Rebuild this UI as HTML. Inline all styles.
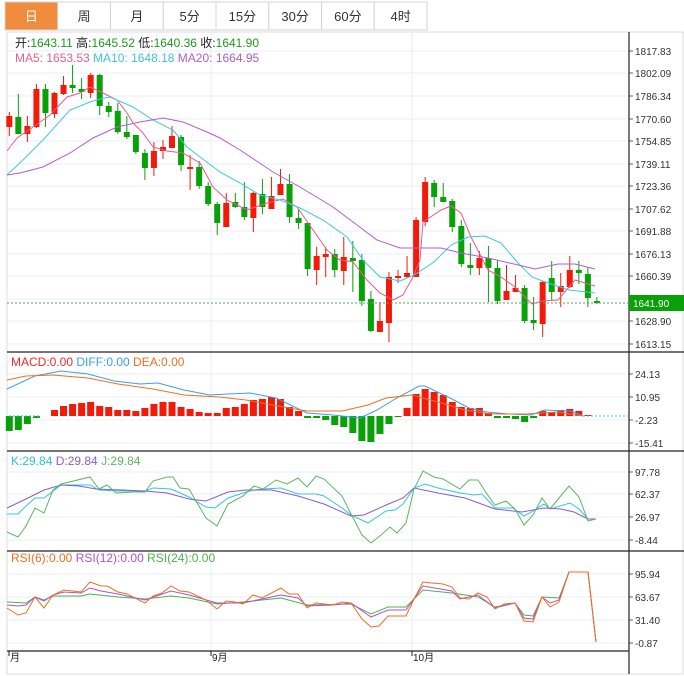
<!DOCTYPE html>
<html><head><meta charset="utf-8"><style>
body{margin:0;background:#fff;width:684px;height:676px;overflow:hidden;font-family:"Liberation Sans","Noto Sans CJK SC",sans-serif}
svg{position:absolute;left:0;top:0}
</style></head><body>
<svg id="s" width="684" height="676" xmlns="http://www.w3.org/2000/svg" font-family="Liberation Sans, Noto Sans CJK SC, sans-serif"></svg>
<script>
const S=document.getElementById('s');let h='';
function L(x1,y1,x2,y2,c,w,d){h+=`<line x1="${x1}" y1="${y1}" x2="${x2}" y2="${y2}" stroke="${c}" stroke-width="${w||1}" ${d?'stroke-dasharray="'+d+'"':''}/>`}
function R(x,y,w,hh,f,st){h+=`<rect x="${x}" y="${y}" width="${w}" height="${hh}" fill="${f}" ${st?'stroke="'+st+'"':''}/>`}
function T(x,y,t,c,s,a){h+=`<text x="${x}" y="${y}" fill="${c}" font-size="${s||12}" ${a?'text-anchor="'+a+'"':''}>${t}</text>`}
function P(pts,c,w){h+=`<polyline fill="none" stroke="${c}" stroke-width="${w||1}" points="${pts}"/>`}
// tabs
const tabs=['日','周','月','5分','15分','30分','60分','4时'];
tabs.forEach((t,i)=>{const x=5+i*52.75;R(x,2,52.75,28,i==0?'#f08c3e':'#fff','#d4d4d4');T(x+26.4,21,t,i==0?'#fff':'#333',13,'middle');});
// frame
R(7,32,676,642,'none','#ddd');
// grids
const gy=[[51,'1817.83'],[73,'1802.09'],[96,'1786.34'],[119,'1770.60'],[141,'1754.85'],[164,'1739.11'],[186,'1723.36'],[209,'1707.62'],[231,'1691.88'],[254,'1676.13'],[276,'1660.39'],[299,''],[321,'1628.90'],[344,'1613.15'],
[374,'24.13'],[397,'10.95'],[420,'-2.23'],[443,'-15.41'],[472,'97.78'],[494,'62.37'],[517,'26.97'],[540,'-8.44'],[574,'95.94'],[597,'63.67'],[620,'31.40'],[643,'-0.87']];
gy.forEach(g=>{L(7,g[0],629,g[0],'#e8eef3',1);L(629,g[0],633,g[0],'#666',1);if(g[1])T(635,g[0]+4,g[1],'#333',10);});
[211,412].forEach(x=>L(x,32,x,651,'#e8eef3',1));
// panel separators
[352,451,551].forEach(y=>L(7,y,684,y,'#222',1.2));
L(7,651,629,651,'#222',1.2);
L(629,32,629,674,'#222',1.2);
[[9,'月'],[211,'9月'],[412,'10月']].forEach(m=>{L(m[0],651,m[0],656,'#222');T(m[0]+1,661,m[1],'#222',10);});
// legends
h+=`<text x="15" y="47" font-size="12"><tspan fill="#222">开:</tspan><tspan fill="#1c9a1c">1643.11 </tspan><tspan fill="#222"> 高:</tspan><tspan fill="#1c9a1c">1645.52 </tspan><tspan fill="#222"> 低:</tspan><tspan fill="#1c9a1c">1640.36 </tspan><tspan fill="#222"> 收:</tspan><tspan fill="#1c9a1c">1641.90</tspan></text>`;
h+=`<text x="15" y="62" font-size="12"><tspan fill="#e8608a">MA5: 1653.53 </tspan><tspan fill="#3ec3dc"> MA10: 1648.18 </tspan><tspan fill="#b15ccb"> MA20: 1664.95</tspan></text>`;
h+=`<text x="11" y="366" font-size="12"><tspan fill="#f02a2a">MACD:0.00 </tspan><tspan fill="#3aa0f0"> DIFF:0.00 </tspan><tspan fill="#f07020"> DEA:0.00</tspan></text>`;
h+=`<text x="11" y="465" font-size="12"><tspan fill="#30c0d8">K:29.84 </tspan><tspan fill="#8a5cd0"> D:29.84 </tspan><tspan fill="#5cb85c"> J:29.84</tspan></text>`;
h+=`<text x="11" y="562" font-size="12"><tspan fill="#f07020">RSI(6):0.00 </tspan><tspan fill="#b050d0"> RSI(12):0.00 </tspan><tspan fill="#50b050"> RSI(24):0.00</tspan></text>`;
// candles [color, bodyTop, bodyBot, hi, lo]
const C=[['r',116,127,112,136],['g',117,134,94,134],['r',126,134,116,142],['r',89,127,84,128],['g',89,113,84,127],['r',93,114,92,118],['r',85,94,76,95],['g',85,88,65,93],['g',89,92,78,99],['r',75,93,73,98],
['g',75,106,74,115],['g',106,112,102,117],['g',111,132,103,134],['g',132,137,116,139],['g',135,152,135,154],['g',153,168,149,180],['r',151,168,142,176],['r',147,151,140,159],['r',136,148,126,148],['g',137,165,135,171],
['r',167,169,155,190],['g',167,186,161,189],['g',186,204,182,206],['g',204,223,202,235],['r',203,227,193,227],['g',202,207,193,208],['g',207,217,182,220],['r',193,218,192,232],['g',194,207,179,214],['r',196,209,177,209],
['r',184,195,169,195],['g',184,217,174,223],['g',218,223,209,229],['g',223,269,222,276],['r',256,270,247,285],['r',254,257,247,277],['g',254,270,249,277],['r',257,271,237,285],['g',258,261,241,292],['g',260,301,254,306],
['g',299,331,291,332],['r',321,332,302,332],['r',277,323,272,342],['r',276,278,270,283],['r',273,277,256,278],['r',220,277,217,277],['r',182,222,177,226],['g',183,197,180,207],['g',197,202,183,202],['g',201,227,199,232],
['g',226,264,220,267],['g',265,268,243,275],['r',258,268,251,275],['g',258,268,246,302],['g',268,301,260,304],['r',291,300,265,300],['r',288,292,275,292],['g',288,321,285,323],['g',320,323,297,330],['r',282,324,281,337],
['g',278,292,261,300],['r',286,292,273,307],['r',270,287,256,288],['g',270,273,261,284],['g',274,298,267,307],['g',301,303,297,304]];
const X=i=>9.3+i*9.04;
C.forEach((c,i)=>{const x=X(i),col=c[0]=='r'?'#f21b0a':'#0aa00a';L(x,c[3],x,c[4],col,1);R(x-3,c[1],6,Math.max(c[2]-c[1],1.5),col);});
// last price line
L(7,303,629,303,'#4caf50',1,'2,2');
R(629,295,55,16,'#0aa00a');T(633,307,'1641.90','#fff',10);
// MAs
P('7,151 17,138 33,127 50,115 67,97 80,93 90,87 103,93 117,100 127,113 133,123 143,133 153,147 167,151 183,153 200,163 213,187 227,200 247,210 267,203 283,199 297,207 313,230 327,250 340,260 353,262 367,280 380,293 393,300 403,295 413,277 420,260 423,222 441,210 451,206 461,213 471,237 488,270 501,277 515,287 532,304 542,301 558,300 575,280 595,286','#ec5a88');
P('7,175 23,160 43,140 70,110 90,102 100,99 110,97 133,107 153,120 173,130 187,147 200,157 220,172 240,183 260,195 280,200 300,208 323,220 347,237 363,260 380,277 400,281 414,275 434,262 451,245 468,237 485,236 501,243 518,263 532,277 548,283 569,290 595,293','#3ec8e0');
P('7,175 20,173 43,167 70,153 93,138 117,127 140,122 163,118 183,122 207,132 220,138 240,150 273,172 300,187 333,207 357,225 377,240 400,248 441,248 461,253 488,258 518,265 535,269 558,264 575,264 595,269','#b45cd0');
// MACD bars
const M=[431,430,424,418,416,410,406,404,403,402,406,407,410,410,411,408,404,402,402,407,409,412,413,413,408,407,404,400,399,397,399,407,411,418,418,420,425,427,433,441,442,434,424,417,408,394,389,392,395,402,407,408,408,413,418,418,419,422,418,411,412,410,409,411,415,416];
M.forEach((v,i)=>{const x=X(i);if(v==416)return;const col=v<416?'#f21b0a':'#0aa00a';R(x-3.5,Math.min(v,416),7,Math.abs(v-416),col);});
L(9,416,40,416,'#3ec8e0',1,'2,2');L(583,416,629,416,'#3ec8e0',1,'2,2');
P('7,389 35,376 61,371 88,374 114,381 140,384 158,383 184,390 210,395 228,394 250,393 276,398 307,413 333,415 360,418 377,410 395,399 419,386 425,386 452,399 469,408 487,412 509,414 531,415 544,410 570,411 583,416','#3aa0f0');
P('7,380 26,376 53,375 88,378 118,384 153,389 184,395 219,397 246,400 272,405 307,411 342,411 368,405 386,398 412,395 438,402 465,410 491,414 526,414 557,412 583,416','#f07020');
// KDJ
P('7,514 18,514 26,506 35,498 44,498 61,485 90,485 99,490 118,491 145,491 153,488 171,489 189,497 206,507 215,508 228,498 246,492 254,490 263,489 281,488 298,494 316,494 324,496 342,508 351,515 368,523 386,511 395,510 403,504 414,488 425,484 438,488 460,493 474,495 482,494 495,508 513,508 524,516 533,511 544,504 550,509 570,503 579,509 588,519 596,519','#30c8e0');
P('7,508 26,499 44,490 61,485 79,486 96,489 145,491 167,493 189,499 206,501 228,492 246,490 272,490 298,496 324,504 351,516 364,515 386,505 403,498 414,488 438,493 465,498 495,509 522,512 544,508 561,509 574,512 588,519 596,519','#8a5cd0');
P('7,532 18,537 26,526 35,508 44,513 53,490 61,484 90,477 99,489 107,485 116,493 134,492 145,492 153,481 167,477 173,477 180,488 189,489 206,518 217,526 228,504 243,496 254,486 263,489 276,480 287,484 298,478 307,487 316,476 324,479 342,496 351,514 362,535 371,543 381,535 390,527 397,533 406,523 414,489 423,471 434,477 443,479 460,489 469,480 478,480 487,494 495,505 506,501 515,509 524,525 533,515 542,498 550,509 559,498 569,486 579,497 588,521 596,519','#5cb85c');
// RSI
P('7,602 26,603 35,597 44,600 53,596 81,596 90,594 118,597 145,599 171,596 189,598 217,604 243,602 281,598 307,605 351,604 371,614 388,607 406,607 423,590 452,593 478,597 495,607 515,603 524,615 533,616 542,597 559,598 569,572 588,572 596,642','#50b050');
P('7,605 18,606 26,605 35,597 44,601 53,595 64,592 81,593 90,588 101,591 118,594 145,600 171,591 189,595 217,603 243,603 281,595 298,598 307,606 333,605 351,603 371,617 388,610 406,610 423,586 452,591 460,599 478,595 495,608 515,603 524,618 533,619 542,597 550,603 559,600 569,572 588,572 596,642','#b050d0');
P('7,608 18,615 26,613 35,597 44,608 53,595 64,590 81,592 90,582 101,586 107,586 118,592 127,594 145,603 153,596 162,593 171,586 180,591 189,592 206,600 217,609 226,601 235,602 243,604 253,595 262,598 281,588 289,594 298,594 307,608 316,603 333,605 342,602 351,603 362,619 371,627 379,626 388,616 406,616 414,599 423,582 432,583 443,584 452,587 460,598 469,599 478,593 487,597 495,609 504,604 515,603 524,621 533,622 542,597 550,607 559,602 569,572 588,572 596,642','#f07020');
S.innerHTML=h;
</script>
</body></html>
